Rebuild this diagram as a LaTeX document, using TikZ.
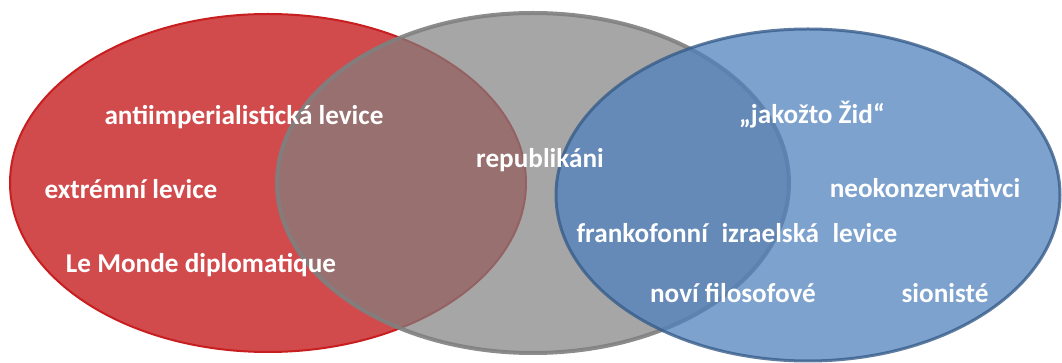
\documentclass[tikz,border=0pt]{standalone}
\usepackage{fontspec}
\setmainfont{Carlito}
\usetikzlibrary{shapes.geometric}
\definecolor{setred}{RGB}{209,75,77}
\definecolor{setredline}{RGB}{200,30,32}
\definecolor{setgrey}{RGB}{128,128,128}
\definecolor{setblue}{RGB}{79,129,189}
\definecolor{setblueline}{RGB}{56,93,138}
\tikzset{
        setnode/.style={ellipse, inner sep=0pt},
        % Left set
        set_red/.style={setnode, fill=setred, draw=setredline, line width=1pt, minimum width=258pt, minimum height=169pt},
        % Middle set
        set_grey/.style={setnode, fill=setgrey, fill opacity=0.7, draw=setgrey, draw opacity=0.9, line width=2pt, minimum width=256pt, minimum height=170pt},
        % Right set
        set_blue/.style={setnode, fill=setblue, fill opacity=0.74, draw=setblueline, draw opacity=0.8, line width=1.5pt, minimum width=252pt, minimum height=166pt},
        % Labels
        set_label/.style={anchor=base, inner sep=0pt, text=white, font=\fontsize{13.6}{16}\selectfont\bfseries}
}
\begin{document}
\begin{tikzpicture}[x=0.5pt, y=-0.5pt]
    \useasboundingbox (0,0) rectangle (1062,363);
    \node[set_red]  (left)   at (268,183) {};
    \node[set_grey] (middle) at (533,183) {};
    \node[set_blue] (right)  at (808,195) {};
    % left labels
    \node[set_label] (antiimp)  at (244,125) {antiimperialistická levice};
    \node[set_label] (extreme)  at (131,199) {extrémní levice};
    \node[set_label] (lemonde)  at (201,273) {Le Monde diplomatique};
    % middle label
    \node[set_label] (republic) at (540,168) {republikáni};
    % right labels
    \node[set_label] (jew)      at (812,124) {„jakožto Žid“};
    \node[set_label] (neocon)   at (925,198) {neokonzervativci};
    \node[set_label] (franco)   at (737,243) {frankofonní\hspace{0.5em}izraelská\hspace{0.5em}levice};
    \node[set_label] (newphil)  at (733,303) {noví filosofové};
    \node[set_label] (zion)     at (945,303) {sionisté};
\end{tikzpicture}
\end{document}
